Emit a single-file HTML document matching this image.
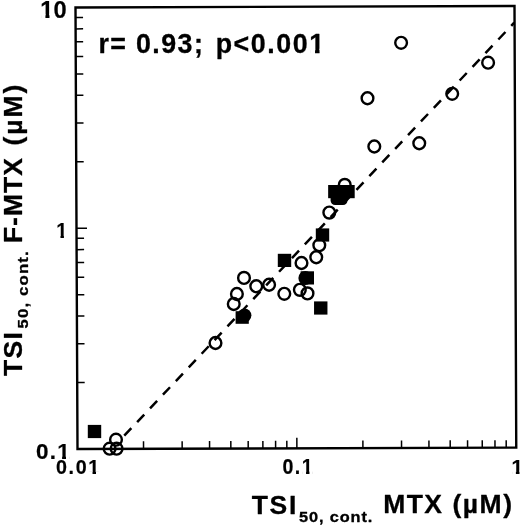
<!DOCTYPE html><html><head><meta charset="utf-8"><title>plot</title><style>html,body{margin:0;padding:0;background:#fff}svg{display:block}text{font-family:"Liberation Sans",sans-serif;font-weight:bold;fill:#000}</style></head><body>
<svg width="520" height="526" viewBox="0 0 520 526">
<rect width="520" height="526" fill="#fff"/>
<polygon points="75.50,7.50 514.50,6.00 516.25,447.60 77.50,449.00" fill="none" stroke="#000" stroke-width="2.4" stroke-linejoin="miter"/>
<path d="M143.54 448.79L143.51 441.29M77.20 382.55L84.70 382.52M182.17 448.67L182.14 441.17M77.02 343.68L84.52 343.65M209.58 448.58L209.55 441.08M76.90 316.10L84.40 316.07M230.84 448.51L230.81 441.01M76.80 294.70L84.30 294.68M248.21 448.46L248.18 440.96M76.72 277.22L84.22 277.20M262.89 448.41L262.87 440.91M76.65 262.44L84.15 262.42M275.62 448.37L275.59 440.87M76.60 249.64L84.10 249.62M286.84 448.33L286.81 440.83M76.55 238.35L84.05 238.32M296.88 448.30L296.84 437.80M76.50 228.25L87.00 228.21M362.91 448.09L362.89 440.59M76.20 161.80L83.70 161.77M401.54 447.97L401.52 440.47M76.02 122.93L83.52 122.90M428.95 447.88L428.93 440.38M75.90 95.35L83.40 95.32M450.21 447.81L450.19 440.31M75.80 73.95L83.30 73.93M467.58 447.76L467.56 440.26M75.72 56.47L83.22 56.45M482.27 447.71L482.24 440.21M75.65 41.69L83.15 41.67M494.99 447.67L494.96 440.17M75.60 28.89L83.10 28.87M506.21 447.63L506.19 440.13M75.55 17.60L83.05 17.57" stroke="#000" stroke-width="1.5" fill="none"/>
<path d="M124.25 435.71L514.20 22.71" stroke="#000" stroke-width="2.5" stroke-dasharray="10.3 8.49" stroke-dashoffset="0" fill="none"/>
<rect x="87.80" y="424.90" width="13.4" height="13.2" fill="#000"/>
<rect x="277.80" y="253.80" width="13.4" height="13.2" fill="#000"/>
<rect x="300.60" y="271.30" width="13.4" height="13.2" fill="#000"/>
<rect x="314.05" y="301.40" width="13.4" height="13.2" fill="#000"/>
<rect x="315.80" y="228.40" width="13.4" height="13.2" fill="#000"/>
<circle cx="305.3" cy="278" r="6.9" fill="#000"/>
<rect x="328.15" y="185.0" width="26.55" height="13.2" fill="#000"/>
<rect x="330.6" y="191.8" width="16.9" height="13.3" rx="4.5" fill="#000"/>
<rect x="235.6" y="311.2" width="13.2" height="12.6" fill="#000"/>
<circle cx="244.5" cy="315.3" r="6.9" fill="#000"/>
<ellipse cx="109.60" cy="448.70" rx="5.85" ry="5.95" fill="none" stroke="#000" stroke-width="2.4"/>
<ellipse cx="116.60" cy="448.70" rx="5.85" ry="5.95" fill="none" stroke="#000" stroke-width="2.4"/>
<ellipse cx="116.00" cy="439.70" rx="5.85" ry="5.95" fill="none" stroke="#000" stroke-width="2.4"/>
<ellipse cx="215.50" cy="343.00" rx="5.85" ry="5.95" fill="none" stroke="#000" stroke-width="2.4"/>
<ellipse cx="233.75" cy="304.00" rx="5.85" ry="5.95" fill="none" stroke="#000" stroke-width="2.4"/>
<ellipse cx="236.90" cy="294.00" rx="5.85" ry="5.95" fill="none" stroke="#000" stroke-width="2.4"/>
<ellipse cx="244.00" cy="277.90" rx="5.85" ry="5.95" fill="none" stroke="#000" stroke-width="2.4"/>
<ellipse cx="256.25" cy="286.25" rx="5.85" ry="5.95" fill="none" stroke="#000" stroke-width="2.4"/>
<ellipse cx="269.10" cy="284.75" rx="5.85" ry="5.95" fill="none" stroke="#000" stroke-width="2.4"/>
<ellipse cx="284.30" cy="293.80" rx="5.85" ry="5.95" fill="none" stroke="#000" stroke-width="2.4"/>
<ellipse cx="299.85" cy="289.85" rx="5.85" ry="5.95" fill="none" stroke="#000" stroke-width="2.4"/>
<ellipse cx="307.50" cy="293.40" rx="5.85" ry="5.95" fill="none" stroke="#000" stroke-width="2.4"/>
<ellipse cx="301.50" cy="263.00" rx="5.85" ry="5.95" fill="none" stroke="#000" stroke-width="2.4"/>
<ellipse cx="316.25" cy="257.25" rx="5.85" ry="5.95" fill="none" stroke="#000" stroke-width="2.4"/>
<ellipse cx="319.30" cy="245.20" rx="5.85" ry="5.95" fill="none" stroke="#000" stroke-width="2.4"/>
<ellipse cx="329.30" cy="212.60" rx="5.85" ry="5.95" fill="none" stroke="#000" stroke-width="2.4"/>
<ellipse cx="344.75" cy="184.90" rx="5.85" ry="5.95" fill="none" stroke="#000" stroke-width="2.4"/>
<ellipse cx="367.50" cy="98.25" rx="5.85" ry="5.95" fill="none" stroke="#000" stroke-width="2.4"/>
<ellipse cx="374.30" cy="146.50" rx="5.85" ry="5.95" fill="none" stroke="#000" stroke-width="2.4"/>
<ellipse cx="419.25" cy="143.25" rx="5.85" ry="5.95" fill="none" stroke="#000" stroke-width="2.4"/>
<ellipse cx="452.20" cy="93.80" rx="5.85" ry="5.95" fill="none" stroke="#000" stroke-width="2.4"/>
<ellipse cx="401.10" cy="42.80" rx="5.85" ry="5.95" fill="none" stroke="#000" stroke-width="2.4"/>
<ellipse cx="488.10" cy="62.70" rx="5.85" ry="5.95" fill="none" stroke="#000" stroke-width="2.4"/>
<text transform="translate(98.50 52.90) scale(1.000 1)" font-size="26.80" letter-spacing="1.20" stroke="#000" stroke-width="0.30" stroke-linejoin="round">r=</text>
<text transform="translate(136.00 52.90) scale(1.000 1)" font-size="26.80" letter-spacing="1.45" stroke="#000" stroke-width="0.30" stroke-linejoin="round">0.93;</text>
<clipPath id="k1"><rect x="-2" y="-26.80" width="115.94" height="23.07"/><rect x="-2.00" y="-3.78" width="96.46" height="13.11"/><rect x="99.34" y="-3.78" width="4.48" height="13.11"/><rect x="108.32" y="-3.78" width="5.62" height="13.11"/></clipPath>
<text transform="translate(215.70 52.60) scale(1.000 1)" font-size="26.80" letter-spacing="1.55" stroke="#000" stroke-width="0.30" stroke-linejoin="round" clip-path="url(#k1)">p&lt;0.001</text>
<clipPath id="k2"><rect x="-2" y="-23.20" width="32.11" height="19.83"/><rect x="-2.00" y="-3.42" width="2.78" height="11.49"/><rect x="5.01" y="-3.42" width="3.98" height="11.49"/><rect x="12.91" y="-3.42" width="17.19" height="11.49"/></clipPath>
<text transform="translate(40.30 17.70) scale(1.020 1)" font-size="23.20" letter-spacing="0.15" stroke="#000" stroke-width="0.20" stroke-linejoin="round" clip-path="url(#k2)">10</text>
<clipPath id="k3"><rect x="-2" y="-21.60" width="18.01" height="18.40"/><rect x="-2.00" y="-3.25" width="2.69" height="10.76"/><rect x="4.64" y="-3.25" width="3.76" height="10.76"/><rect x="12.06" y="-3.25" width="3.96" height="10.76"/></clipPath>
<text transform="translate(56.20 238.30) scale(0.920 1)" font-size="21.60" letter-spacing="0.00" stroke="#000" stroke-width="0.15" stroke-linejoin="round" clip-path="url(#k3)">1</text>
<clipPath id="k4"><rect x="-2" y="-21.40" width="39.35" height="18.22"/><rect x="-2.00" y="-3.23" width="22.92" height="10.67"/><rect x="24.84" y="-3.23" width="3.74" height="10.67"/><rect x="32.20" y="-3.23" width="5.15" height="10.67"/></clipPath>
<text transform="translate(36.00 458.50) scale(1.050 1)" font-size="21.40" letter-spacing="1.20" stroke="#000" stroke-width="0.20" stroke-linejoin="round" clip-path="url(#k4)">0.1</text>
<clipPath id="k5"><rect x="-2" y="-20.30" width="52.31" height="17.23"/><rect x="-2.00" y="-3.12" width="35.94" height="10.18"/><rect x="37.66" y="-3.12" width="3.59" height="10.18"/><rect x="44.68" y="-3.12" width="5.63" height="10.18"/></clipPath>
<text transform="translate(56.00 474.40) scale(0.970 1)" font-size="20.30" letter-spacing="1.70" stroke="#000" stroke-width="0.20" stroke-linejoin="round" clip-path="url(#k5)">0.01</text>
<clipPath id="k6"><rect x="-2" y="-21.80" width="41.40" height="18.58"/><rect x="-2.00" y="-3.27" width="24.28" height="10.85"/><rect x="26.27" y="-3.27" width="3.79" height="10.85"/><rect x="33.74" y="-3.27" width="5.66" height="10.85"/></clipPath>
<text transform="translate(282.40 473.70) scale(0.900 1)" font-size="21.80" letter-spacing="1.70" stroke="#000" stroke-width="0.20" stroke-linejoin="round" clip-path="url(#k6)">0.1</text>
<clipPath id="k7"><rect x="-2" y="-20.50" width="17.40" height="17.41"/><rect x="-2.00" y="-3.14" width="2.63" height="10.27"/><rect x="4.38" y="-3.14" width="3.61" height="10.27"/><rect x="11.47" y="-3.14" width="3.93" height="10.27"/></clipPath>
<text transform="translate(511.50 473.60) scale(1.000 1)" font-size="20.50" letter-spacing="0.00" stroke="#000" stroke-width="0.20" stroke-linejoin="round" clip-path="url(#k7)">1</text>
<text transform="translate(251.70 513.60) scale(1.000 1)" font-size="26.50" letter-spacing="1.70" stroke="#000" stroke-width="0.30" stroke-linejoin="round">TSI</text>
<text transform="translate(299.00 522.30) scale(1.120 1)" font-size="14.60" letter-spacing="0.78" stroke="#000" stroke-width="0.30" stroke-linejoin="round">50, cont.</text>
<text transform="translate(383.20 513.40) scale(1.000 1)" font-size="26.50" letter-spacing="1.40" stroke="#000" stroke-width="0.30" stroke-linejoin="round">MTX</text>
<text transform="translate(452.50 513.40) scale(1.000 1)" font-size="26.50" letter-spacing="1.50" stroke="#000" stroke-width="0.30" stroke-linejoin="round">(µM)</text>
<g transform="translate(21.6,376) rotate(-90)">
<text transform="translate(-0.10 0.00) scale(1.000 1)" font-size="26.50" letter-spacing="1.40" stroke="#000" stroke-width="0.30" stroke-linejoin="round">TSI</text>
<text transform="translate(47.50 6.50) scale(1.150 1)" font-size="14.60" letter-spacing="1.00" stroke="#000" stroke-width="0.30" stroke-linejoin="round">50, cont.</text>
<text transform="translate(132.90 0.00) scale(1.000 1)" font-size="26.50" letter-spacing="1.00" stroke="#000" stroke-width="0.30" stroke-linejoin="round">F-MTX</text>
<text transform="translate(230.40 0.00) scale(1.000 1)" font-size="26.50" letter-spacing="2.00" stroke="#000" stroke-width="0.30" stroke-linejoin="round">(µM)</text>
</g>
</svg></body></html>
